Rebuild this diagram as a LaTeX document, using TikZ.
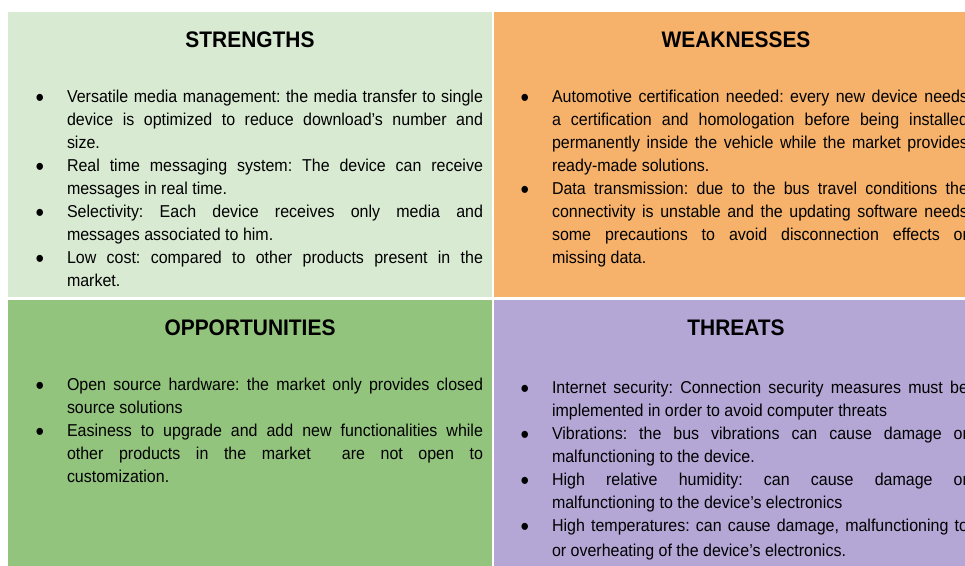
\documentclass[tikz,border=0pt]{standalone}
\usepackage{fontspec}
\setmainfont{Liberation Sans}
\newfontfamily\swotfont[FakeStretch=0.93]{Liberation Sans}
\usetikzlibrary{positioning}
\definecolor{strengthsfill}{HTML}{D9EAD3}
\definecolor{weaknessesfill}{HTML}{F6B26B}
\definecolor{opportunitiesfill}{HTML}{93C47D}
\definecolor{threatsfill}{HTML}{B4A7D6}
\hyphenpenalty=10000
\exhyphenpenalty=10000
\frenchspacing
\newcommand{\swotitem}{\par\leavevmode\strut
  \llap{\raisebox{-3.2pt}{\fontsize{26}{0}\selectfont\textbullet}\hspace{22.8pt}}}
\tikzset{
    quadrant/.style={fill=#1, draw=none, inner sep=0pt, outer sep=0pt,
        minimum width=484pt, anchor=north west},
    quadtitle/.style={font=\swotfont\fontsize{22.5}{26}\selectfont\bfseries,
        anchor=base, inner sep=0pt},
    quadtext/.style={font=\swotfont\fontsize{17.2}{23}\selectfont\frenchspacing,
        text width=416pt, align=justify, inner sep=0pt, outer sep=0pt},
}

\begin{document}
\begin{tikzpicture}[x=1pt,y=-1pt]
\path[use as bounding box, clip] (0,0) rectangle (965,565);
\fill[white] (0,0) rectangle (965,565);
\node[quadrant=strengthsfill, minimum height=285pt] (s) at (8,12) {};
\node[quadrant=weaknessesfill, minimum height=285pt, right=2pt of s] (w) {};
\node[quadrant=opportunitiesfill, minimum height=280pt, below=3pt of s] (o) {};
\node[quadrant=threatsfill, minimum height=280pt, right=2pt of o] (t) {};
\node[quadtitle] (stitle) at ([yshift=-35pt]s.north) {STRENGTHS};
\node[quadtitle] (wtitle) at ([yshift=-35pt]w.north) {WEAKNESSES};
\node[quadtitle] (otitle) at ([yshift=-35pt]o.north) {OPPORTUNITIES};
\node[quadtitle] (ttitle) at ([yshift=-35pt]t.north) {THREATS};
\node[quadtext, below right=67.9pt and 59pt of s.north west] (stext) {%
  \swotitem Versatile media management: the media transfer to single\linebreak
  device is optimized to reduce download’s number and\linebreak size.
  \swotitem Real time messaging system: The device can receive\linebreak
  messages in real time.
  \swotitem Selectivity: Each device receives only media and\linebreak
  messages associated to him.
  \swotitem Low cost: compared to other products present in the\linebreak market.};
\node[quadtext, below right=67.9pt and 58pt of w.north west] (wtext) {%
  \swotitem Automotive certification needed: every new device needs\linebreak
  a certification and homologation before being installed\linebreak
  permanently inside the vehicle while the market provides\linebreak
  ready-made solutions.
  \swotitem Data transmission: due to the bus travel conditions the\linebreak
  connectivity is unstable and the updating software needs\linebreak
  some precautions to avoid disconnection effects or\linebreak missing data.};
\node[quadtext, below right=67.9pt and 59pt of o.north west] (otext) {%
  \swotitem Open source hardware: the market only provides closed\linebreak
  source solutions
  \swotitem Easiness to upgrade and add new functionalities while\linebreak
  other products in the market \ are not open to\linebreak customization.};
\node[quadtext, below right=70.9pt and 58pt of t.north west] (ttext) {%
  \swotitem Internet security: Connection security measures must be\linebreak
  implemented in order to avoid computer threats
  \swotitem Vibrations: the bus vibrations can cause damage or\linebreak
  malfunctioning to the device.
  \swotitem High relative humidity: can cause damage or\linebreak
  malfunctioning to the device’s electronics
  \swotitem High temperatures: can cause damage, malfunctioning to\vadjust{\kern2pt}\linebreak
  or overheating of the device’s electronics.};
\end{tikzpicture}
\end{document}
